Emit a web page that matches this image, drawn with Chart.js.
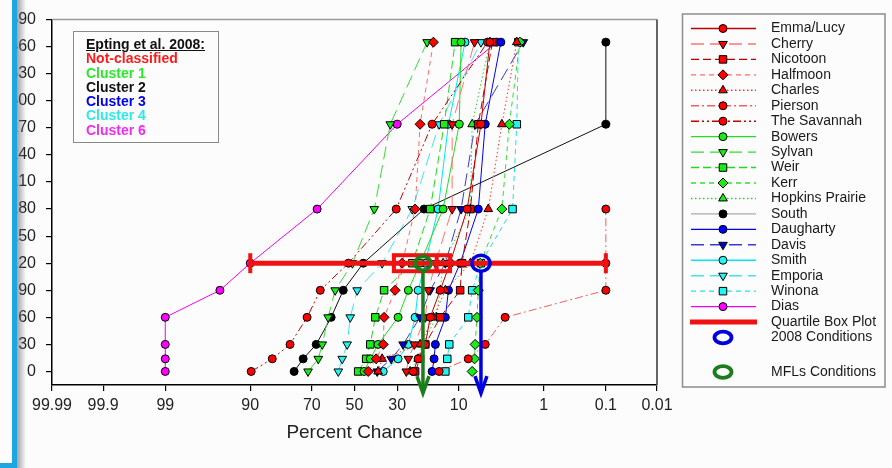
<!DOCTYPE html>
<html>
<head>
<meta charset="utf-8">
<script src="https://cdn.jsdelivr.net/npm/chart.js@4.4.1/dist/chart.umd.min.js"></script>
<style>
  html, body { margin: 0; padding: 0; background: #fcfcfc; }
  #wrap { position: relative; width: 892px; height: 468px; overflow: hidden; }
  #chart { position: absolute; left: 0; top: 0; }
  #edge  { position: absolute; left: 0; top: 0; width: 12px; height: 463px; background: #fcfcfc; }
  #bar   { position: absolute; left: 12px; top: 0; width: 5px; height: 468px; background: #1ea6e3; }
  #shade { position: absolute; left: 17px; top: 0; width: 9px; height: 468px;
           background: linear-gradient(to right, rgba(105,105,105,0.6), rgba(190,190,190,0)); }
  #foot  { position: absolute; left: 0; top: 463px; width: 17px; height: 5px; background: #1ea6e3; }
  #key   { position: absolute; left: 73px; top: 31px; width: 146px; height: 112px; box-sizing: border-box;
           border: 1px solid #8a8a8a; padding: 5px 0 0 12px;
           font: bold 14px 'Liberation Sans', Arial, sans-serif; line-height: 14.3px; }
  #key div { white-space: nowrap; }
</style>
</head>
<body>
<div id="wrap">
  <canvas id="chart" width="892" height="468"></canvas>
  <div id="key">
    <div style="color:#111;text-decoration:underline">Epting et al. 2008:</div>
    <div style="color:#ff1a1a">Not-classified</div>
    <div style="color:#2ee62e">Cluster 1</div>
    <div style="color:#111">Cluster 2</div>
    <div style="color:#0000e6">Cluster 3</div>
    <div style="color:#2ee8e8">Cluster 4</div>
    <div style="color:#ee2eee">Cluster 6</div>
  </div>
  <div id="edge"></div><div id="bar"></div><div id="shade"></div><div id="foot"></div>
</div>
<script>
// ---- data (percent chance of exceedance per duration) ----
const DAYS    = [0, 14, 30, 60, 90, 120, 180, 274, 365];
const Y_TICKS = [0, 30, 60, 90, 120, 150, 180, 210, 240, 270, 300, 330, 360, 390];
const X_TICKS = [99.99, 99.9, 99, 90, 70, 50, 30, 10, 1, 0.1, 0.01];

const EMMA_LUCY       = [23.5, 21.7, 19.2, 17.6, 14.6, 12.0, 8.3, 6.0, 4.8];
const CHERRY          = [26.2, 25.4, 23.1, 19.2, 18.2, 16.0, 11.5, 11.5, 7.0];
const NICOTOON        = [22.8, 21.0, 19.2, 14.6, 9.7, 9.3, 7.7, 6.4, 4.5];
const HALFMOON        = [43.3, 39.5, 36.2, 35.8, 30.9, 27.9, 22.8, 21.0, 16.6];
const CHARLES         = [38.6, 36.7, 21.0, 16.6, 13.2, 7.7, 5.0, 3.5, 2.3];
const PIERSON         = [14.9, 8.1, 5.4, 3.2, 0.1, 0.1, 0.1, null, null];
const THE_SAVANNAH    = [89.8, 84.4, 78.6, 72.0, 66.3, 53.0, 30.4, 17.0, 5.1];
const BOWERS          = [45.3, 42.3, 38.6, 29.6, 25.4, 21.0, 13.8, 9.9, 9.5];
const SYLVAN          = [71.6, 67.2, 65.4, 62.7, 59.4, 51.0, 40.4, 33.0, 18.6];
const WEIR            = [48.2, 44.3, 42.3, 39.9, 35.8, 23.9, 17.6, 13.5, 10.8];
const KERR            = [7.4, 7.0, 6.9, 6.6, 6.4, 6.1, 3.5, 2.85, 2.1];
const HOPKINS_PRAIRIE = [24.7, 21.7, 20.2, 15.7, 14.6, 13.8, 7.7, 7.4, 4.8];
const SOUTH           = [77.1, 73.6, 68.1, 61.3, 55.5, 45.7, 19.6, 0.1, 0.1];
const DAUGHARTY       = [17.0, 16.4, 16.0, 13.2, 12.4, 9.7, 6.4, 5.4, 3.6];
const DAVIS           = [39.0, 32.6, 27.5, 21.0, 17.6, 13.2, 9.5, 6.9, 1.9];
const SMITH           = [36.2, 29.6, 25.4, 22.8, 21.7, 19.2, 15.2, 12.4, 8.7];
const EMPORIA         = [57.9, 56.0, 53.6, 52.1, 48.7, 36.7, 23.9, 14.9, 6.0];
const WINONA          = [13.2, 12.7, 12.2, 8.1, 7.4, 6.0, 2.6, 2.3, 2.2];
const DIAS            = [99, 99, 99, 99, 95.1, 90.0, 67.7, 30.0, 4.0];

// quartile box plot at 120 days, and the two condition markers
const QUARTILE_DAY = 120;
const WHISKER      = [90, 0.1];
const BOX          = [31.4, 12.0];
const MEDIAN       = 15.6;
const MFL_PCT      = 20;
const COND2008_PCT = 6;
const ARROW_TO_DAY = -24;

const FONT = "'Liberation Sans', Arial, sans-serif";

// inverse normal CDF (Acklam) -> probability-paper x position
function probit(p) {
  const a = [-3.969683028665376e+01, 2.209460984245205e+02, -2.759285104469687e+02, 1.383577518672690e+02, -3.066479806614716e+01, 2.506628277459239e+00];
  const b = [-5.447609879822406e+01, 1.615858368580409e+02, -1.556989798598866e+02, 6.680131188771972e+01, -1.328068155288572e+01];
  const c = [-7.784894002430293e-03, -3.223964580411365e-01, -2.400758277161838e+00, -2.549671348602147e+00, 4.374664141464968e+00, 2.938163982698783e+00];
  const d = [7.784695709041462e-03, 3.224671290700398e-01, 2.445134137142996e+00, 3.754408661907416e+00];
  const pl = 0.02425;
  let q, r;
  if (p < pl) {
    q = Math.sqrt(-2 * Math.log(p));
    return (((((c[0]*q+c[1])*q+c[2])*q+c[3])*q+c[4])*q+c[5]) / ((((d[0]*q+d[1])*q+d[2])*q+d[3])*q+1);
  }
  if (p <= 1 - pl) {
    q = p - 0.5; r = q * q;
    return (((((a[0]*r+a[1])*r+a[2])*r+a[3])*r+a[4])*r+a[5])*q / (((((b[0]*r+b[1])*r+b[2])*r+b[3])*r+b[4])*r+1);
  }
  q = Math.sqrt(-2 * Math.log(1 - p));
  return -(((((c[0]*q+c[1])*q+c[2])*q+c[3])*q+c[4])*q+c[5]) / ((((d[0]*q+d[1])*q+d[2])*q+d[3])*q+1);
}
const zOf = pct => -probit(pct / 100);

// ---- series styles ----
const RED = '#ff0000', GRN = '#19ec19', CYN = '#22f4f4';
const LONG = [13, 6], DASH = [8, 4], MED = [5, 4], DOT = [1.5, 2.5], DDOT = [8, 3, 2, 3], DDDOT = [8, 3, 2, 3, 2, 3];

const SERIES = [
  { label: 'Emma/Lucy',       v: EMMA_LUCY,       line: '#c00000', dash: [],    shape: 'circle',   fill: RED },
  { label: 'Cherry',          v: CHERRY,          line: '#ff7373', dash: LONG,  shape: 'triangle', rot: 180, fill: RED },
  { label: 'Nicotoon',        v: NICOTOON,        line: '#b80000', dash: DASH,  shape: 'rect',     fill: RED },
  { label: 'Halfmoon',        v: HALFMOON,        line: '#ff6a6a', dash: MED,   shape: 'rectRot',  fill: RED },
  { label: 'Charles',         v: CHARLES,         line: '#ff3030', dash: DOT,   shape: 'triangle', fill: RED },
  { label: 'Pierson',         v: PIERSON,         line: '#f06060', dash: DDOT,  shape: 'circle',   fill: RED },
  { label: 'The Savannah',    v: THE_SAVANNAH,    line: '#c00000', dash: DDDOT, shape: 'circle',   fill: RED },
  { label: 'Bowers',          v: BOWERS,          line: '#22dd22', dash: [],    shape: 'circle',   fill: GRN },
  { label: 'Sylvan',          v: SYLVAN,          line: '#33dd33', dash: LONG,  shape: 'triangle', rot: 180, fill: GRN },
  { label: 'Weir',            v: WEIR,            line: '#22d622', dash: DASH,  shape: 'rect',     fill: GRN },
  { label: 'Kerr',            v: KERR,            line: '#33dd33', dash: MED,   shape: 'rectRot',  fill: GRN },
  { label: 'Hopkins Prairie', v: HOPKINS_PRAIRIE, line: '#22d622', dash: DOT,   shape: 'triangle', fill: GRN },
  { label: 'South',           v: SOUTH,           line: '#111111', dash: [],    shape: 'circle',   fill: '#000', key: '#aaaaaa' },
  { label: 'Daugharty',       v: DAUGHARTY,       line: '#0000ee', dash: [],    shape: 'circle',   fill: '#0000ff' },
  { label: 'Davis',           v: DAVIS,           line: '#3a3ad0', dash: LONG,  shape: 'triangle', rot: 180, fill: '#0000cc' },
  { label: 'Smith',           v: SMITH,           line: '#00e8f0', dash: [],    shape: 'circle',   fill: CYN },
  { label: 'Emporia',         v: EMPORIA,         line: '#40e6e6', dash: LONG,  shape: 'triangle', rot: 180, fill: CYN },
  { label: 'Winona',          v: WINONA,          line: '#20e0e8', dash: MED,   shape: 'rect',     fill: CYN },
  { label: 'Dias',            v: DIAS,            line: '#ee00ee', dash: [],    shape: 'circle',   fill: '#ff00ff' },
];
const RADIUS = { circle: 4, triangle: 5, rect: 5.3, rectRot: 5 };

const datasets = SERIES.map(s => ({
  label: s.label,
  data: DAYS.map((d, i) => ({ x: s.v[i] == null ? null : zOf(s.v[i]), y: d })),
  borderColor: s.line,
  borderWidth: 1,
  borderDash: s.dash,
  pointStyle: s.shape,
  pointRotation: s.rot || 0,
  pointRadius: RADIUS[s.shape],
  pointBackgroundColor: s.fill,
  pointBorderColor: '#000',
  pointBorderWidth: 1,
  keyColor: s.key,
  tension: 0,
  fill: false,
  spanGaps: false,
}));

// ---- overlays: frame, quartile box plot, condition circles + arrows ----
const overlay = {
  id: 'overlay',
  afterDatasetsDraw(chart) {
    const { ctx, chartArea: a, scales: { x, y } } = chart;
    const px = p => x.getPixelForValue(zOf(p));
    ctx.save();
    ctx.strokeStyle = '#9a9a9a'; ctx.lineWidth = 1.5;
    ctx.beginPath(); ctx.moveTo(a.left, a.top); ctx.lineTo(a.right, a.top); ctx.stroke();
    ctx.strokeStyle = '#555'; ctx.lineWidth = 1.8;
    ctx.beginPath(); ctx.moveTo(a.right, a.top); ctx.lineTo(a.right, a.bottom); ctx.stroke();

    const yq = y.getPixelForValue(QUARTILE_DAY);
    const w0 = px(WHISKER[0]), w1 = px(WHISKER[1]);
    ctx.strokeStyle = ctx.fillStyle = '#f01212';
    ctx.lineWidth = 5;
    ctx.beginPath(); ctx.moveTo(w0, yq); ctx.lineTo(w1, yq); ctx.stroke();
    ctx.fillRect(w0 - 2, yq - 10, 4, 20);
    ctx.fillRect(w1 - 2, yq - 10, 4, 20);
    const b0 = px(BOX[0]), b1 = px(BOX[1]), bm = px(MEDIAN);
    ctx.lineWidth = 4;
    ctx.strokeRect(b0, yq - 8, b1 - b0, 16);
    ctx.beginPath(); ctx.moveTo(bm, yq - 8); ctx.lineTo(bm, yq + 8); ctx.stroke();

    const yEnd = y.getPixelForValue(ARROW_TO_DAY);
    const arrow = (xc, col, r, lw) => {
      ctx.strokeStyle = col; ctx.lineWidth = lw; ctx.lineJoin = 'miter';
      ctx.beginPath(); ctx.moveTo(xc, yq + r); ctx.lineTo(xc, yEnd - 2); ctx.stroke();
      ctx.beginPath(); ctx.moveTo(xc - 6, yEnd - 17); ctx.lineTo(xc, yEnd); ctx.lineTo(xc + 6, yEnd - 17); ctx.stroke();
      ctx.beginPath(); ctx.ellipse(xc, yq, r + 1, r, 0, 0, Math.PI * 2); ctx.stroke();
    };
    arrow(px(MFL_PCT), '#1c7d1c', 7, 3.5);
    arrow(px(COND2008_PCT), '#0000e0', 8, 3.5);
    ctx.restore();
  }
};

// ---- right-hand legend, built from the datasets ----
const sideKey = {
  id: 'sideKey',
  afterDraw(chart) {
    const ctx = chart.ctx;
    ctx.save();
    ctx.strokeStyle = '#8c8c8c'; ctx.lineWidth = 1.5;
    ctx.strokeRect(682.5, 14, 202.5, 373);
    ctx.font = '14px ' + FONT;
    ctx.textBaseline = 'middle';
    const rowY = i => 28.5 + i * 15.45;
    chart.data.datasets.forEach((ds, i) => {
      const yy = rowY(i);
      ctx.save();
      ctx.strokeStyle = ds.keyColor || ds.borderColor;
      ctx.lineWidth = 1.4;
      ctx.setLineDash(ds.borderDash);
      ctx.beginPath(); ctx.moveTo(691, yy); ctx.lineTo(756, yy); ctx.stroke();
      ctx.setLineDash([]);
      ctx.fillStyle = ds.pointBackgroundColor; ctx.strokeStyle = '#000'; ctx.lineWidth = 1;
      Chart.helpers.drawPoint(ctx, { pointStyle: ds.pointStyle, rotation: ds.pointRotation, radius: ds.pointRadius, borderWidth: 1 }, 723, yy);
      ctx.restore();
      ctx.fillStyle = '#1a1a1a';
      ctx.fillText(ds.label, 771, yy);
    });
    let yy = rowY(19);
    ctx.strokeStyle = '#f01212'; ctx.lineWidth = 5;
    ctx.beginPath(); ctx.moveTo(690, yy); ctx.lineTo(757, yy); ctx.stroke();
    ctx.fillText('Quartile Box Plot', 771, yy);
    yy = rowY(20);
    ctx.strokeStyle = '#0000e0'; ctx.lineWidth = 3.8;
    ctx.beginPath(); ctx.ellipse(723, yy, 8.5, 5.8, 0, 0, Math.PI * 2); ctx.stroke();
    ctx.fillText('2008 Conditions', 771, yy);
    yy = 372;
    ctx.strokeStyle = '#1c7d1c';
    ctx.beginPath(); ctx.ellipse(723, yy, 8.5, 5.8, 0, 0, Math.PI * 2); ctx.stroke();
    ctx.fillText('MFLs Conditions', 771, yy);
    ctx.restore();
  }
};

new Chart(document.getElementById('chart'), {
  type: 'line',
  data: { datasets },
  plugins: [overlay, sideKey],
  options: {
    responsive: false,
    animation: false,
    layout: { padding: { left: 0, top: 14, right: 235, bottom: 0 } },
    plugins: { legend: { display: false }, tooltip: { enabled: false } },
    scales: {
      x: {
        type: 'linear',
        min: zOf(99.99), max: zOf(0.01),
        afterBuildTicks: s => { s.ticks = X_TICKS.map(p => ({ value: zOf(p) })); },
        afterFit: s => { s.height = 83; },
        ticks: { autoSkip: false, maxRotation: 0, padding: 5, color: '#222', font: { size: 16, family: FONT },
                 callback: (v, i) => String(X_TICKS[i]) },
        grid: { drawOnChartArea: false, tickLength: 6, color: '#000', lineWidth: 1.2 },
        border: { color: '#000', width: 1.5 },
        title: { display: true, text: 'Percent Chance', color: '#222', font: { size: 19, family: FONT }, padding: { bottom: 24 } }
      },
      y: {
        min: -15, max: 390,
        afterBuildTicks: s => { s.ticks = Y_TICKS.map(v => ({ value: v })); },
        afterFit: s => { s.width = 52; },
        ticks: { padding: 10, color: '#222', font: { size: 16, family: FONT } },
        grid: { drawOnChartArea: false, tickLength: 6, color: '#000', lineWidth: 1.2 },
        border: { color: '#000', width: 1.5 }
      }
    }
  }
});
</script>
</body>
</html>
